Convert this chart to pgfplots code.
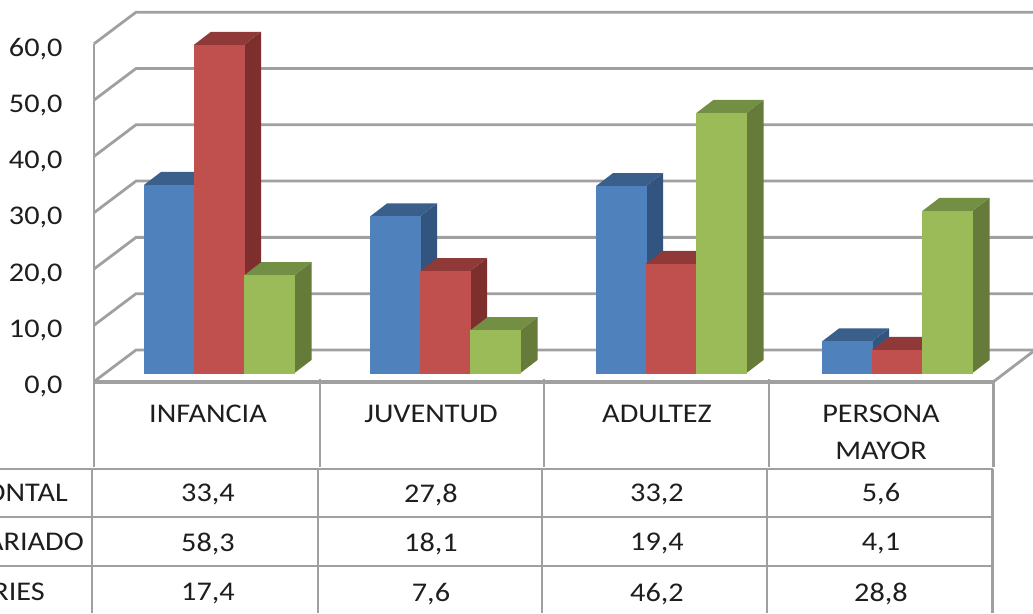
\documentclass[border=0pt]{standalone}
\usepackage{fontspec}
\setmainfont[FakeStretch=1.12]{Carlito}
\usepackage{pgfplots}
\pgfplotsset{compat=1.18}
\definecolor{bf}{HTML}{4F81BD}\definecolor{bs}{HTML}{325580}\definecolor{bt}{HTML}{3A5F8B}
\definecolor{rf}{HTML}{C0504D}\definecolor{rs}{HTML}{7D2F2D}\definecolor{rt}{HTML}{8F3A38}
\definecolor{gf}{HTML}{9BBB59}\definecolor{gs}{HTML}{667A3A}\definecolor{gt}{HTML}{738F43}
\definecolor{gl}{HTML}{A0A0A0}\definecolor{tx}{HTML}{1E1E1E}
% left edge, value, front, side, top
\newcommand\tbar[5]{%
  \pgfmathsetmacro\xb{#1+50}%
  \pgfmathsetmacro\xc{#1+67}%
  \pgfmathsetmacro\xd{#1+17}%
  \pgfmathsetmacro\yt{#2+2.31}%
  \edef\tmp{\noexpand\addplot[fill=#4,draw=none] coordinates {(\xb,0)(\xc,2.31)(\xc,\yt)(\xb,#2)} --cycle;
  \noexpand\addplot[fill=#5,draw=none] coordinates {(#1,#2)(\xd,\yt)(\xc,\yt)(\xb,#2)} --cycle;
  \noexpand\addplot[fill=#3,draw=#3,line width=0.4pt] coordinates {(#1,0)(\xb,0)(\xb,#2)(#1,#2)} --cycle;}%
  \tmp}
\newcommand\gline[1]{%
  \pgfmathsetmacro\ya{#1-1.53}\pgfmathsetmacro\yb{#1+4.085}%
  \edef\tmp{\noexpand\addplot[gl,line width=2.8pt] coordinates {(94,\ya)(136,\yb)(1033,\yb)};}\tmp}
\newcommand\hl[4][2.4pt]{\addplot[gl,line width=#1] coordinates {(#2,#4)(#3,#4)};}
\newcommand\vl[4][2.4pt]{\addplot[gl,line width=#1] coordinates {(#2,#3)(#2,#4)};}
\begin{document}
\begin{tikzpicture}
\useasboundingbox (0,0) rectangle (1033pt,613pt);
\begin{axis}[
  at={(0,0)},anchor=south west,
  scale only axis,width=1033pt,height=613pt,
  xmin=0,xmax=1033,ymin=-42.629,ymax=66.252,
  axis line style={draw=none},major tick length=0pt,
  xtick=\empty,
  ytick={-1.53,8.47,18.47,28.47,38.47,48.47,58.47},
  yticklabels={{0,0},{10,0},{20,0},{30,0},{40,0},{50,0},{60,0}},
  yticklabel style={font=\fontsize{27}{27}\selectfont,text=tx,anchor=east,xshift=66pt,yshift=-5pt},
]
\gline{0}\gline{10}\gline{20}\gline{30}\gline{40}\gline{50}\gline{60}
\addplot[gl,line width=2.8pt] coordinates {(94,58.47)(94,-1.6)};
\addplot[gl,line width=2.8pt] coordinates {(993,-1.6)(1033,3.8)};
% Series 1 / 2 / 3 by category
\tbar{144}{33.4}{bf}{bs}{bt}\tbar{194}{58.3}{rf}{rs}{rt}\tbar{244.5}{17.4}{gf}{gs}{gt}
\tbar{370}{27.8}{bf}{bs}{bt}\tbar{420}{18.1}{rf}{rs}{rt}\tbar{470.5}{7.6}{gf}{gs}{gt}
\tbar{596}{33.2}{bf}{bs}{bt}\tbar{646}{19.4}{rf}{rs}{rt}\tbar{696.5}{46.2}{gf}{gs}{gt}
\tbar{822}{5.6}{bf}{bs}{bt}\tbar{872}{4.1}{rf}{rs}{rt}\tbar{922.5}{28.8}{gf}{gs}{gt}
% data table
\hl[3.6pt]{94}{993}{-1.6}
\vl{94}{-1.6}{-16.7}\vl{320}{-1.0}{-16.7}\vl{544}{-1.0}{-16.7}\vl{769}{-1.0}{-16.7}\vl[3pt]{993}{-1.6}{-16.7}
\hl{0}{993}{-17.05}\hl{0}{992}{-25.58}\hl{0}{992}{-34.28}
\vl{92}{-17.05}{-42.629}\vl{318}{-17.05}{-42.629}\vl{542}{-17.05}{-42.629}\vl{767}{-17.05}{-42.629}\vl[3pt]{992}{-17.05}{-42.629}
\begin{scope}[every node/.style={font=\fontsize{27}{27}\selectfont,text=tx,inner sep=0pt}]
\node at (axis cs:208,-7.3) {INFANCIA};
\node at (axis cs:431,-7.3) {JUVENTUD};
\node at (axis cs:657,-7.3) {ADULTEZ};
\node at (axis cs:881,-7.3) {PERSONA};
\node at (axis cs:881,-13.9) {MAYOR};
\node[anchor=east] at (axis cs:68,-21.2) {ONTAL};
\node[anchor=east] at (axis cs:84,-29.9) {ARIADO};
\node[anchor=east] at (axis cs:45,-38.8) {RIES};
\node at (axis cs:208,-21.6) {33,4};\node at (axis cs:431,-21.6) {27,8};\node at (axis cs:657,-21.6) {33,2};\node at (axis cs:881,-21.6) {5,6};
\node at (axis cs:208,-30.3) {58,3};\node at (axis cs:431,-30.3) {18,1};\node at (axis cs:657,-30.3) {19,4};\node at (axis cs:881,-30.3) {4,1};
\node at (axis cs:208,-39.2) {17,4};\node at (axis cs:431,-39.2) {7,6};\node at (axis cs:657,-39.2) {46,2};\node at (axis cs:881,-39.2) {28,8};
\end{scope}
\end{axis}
\end{tikzpicture}
\end{document}
